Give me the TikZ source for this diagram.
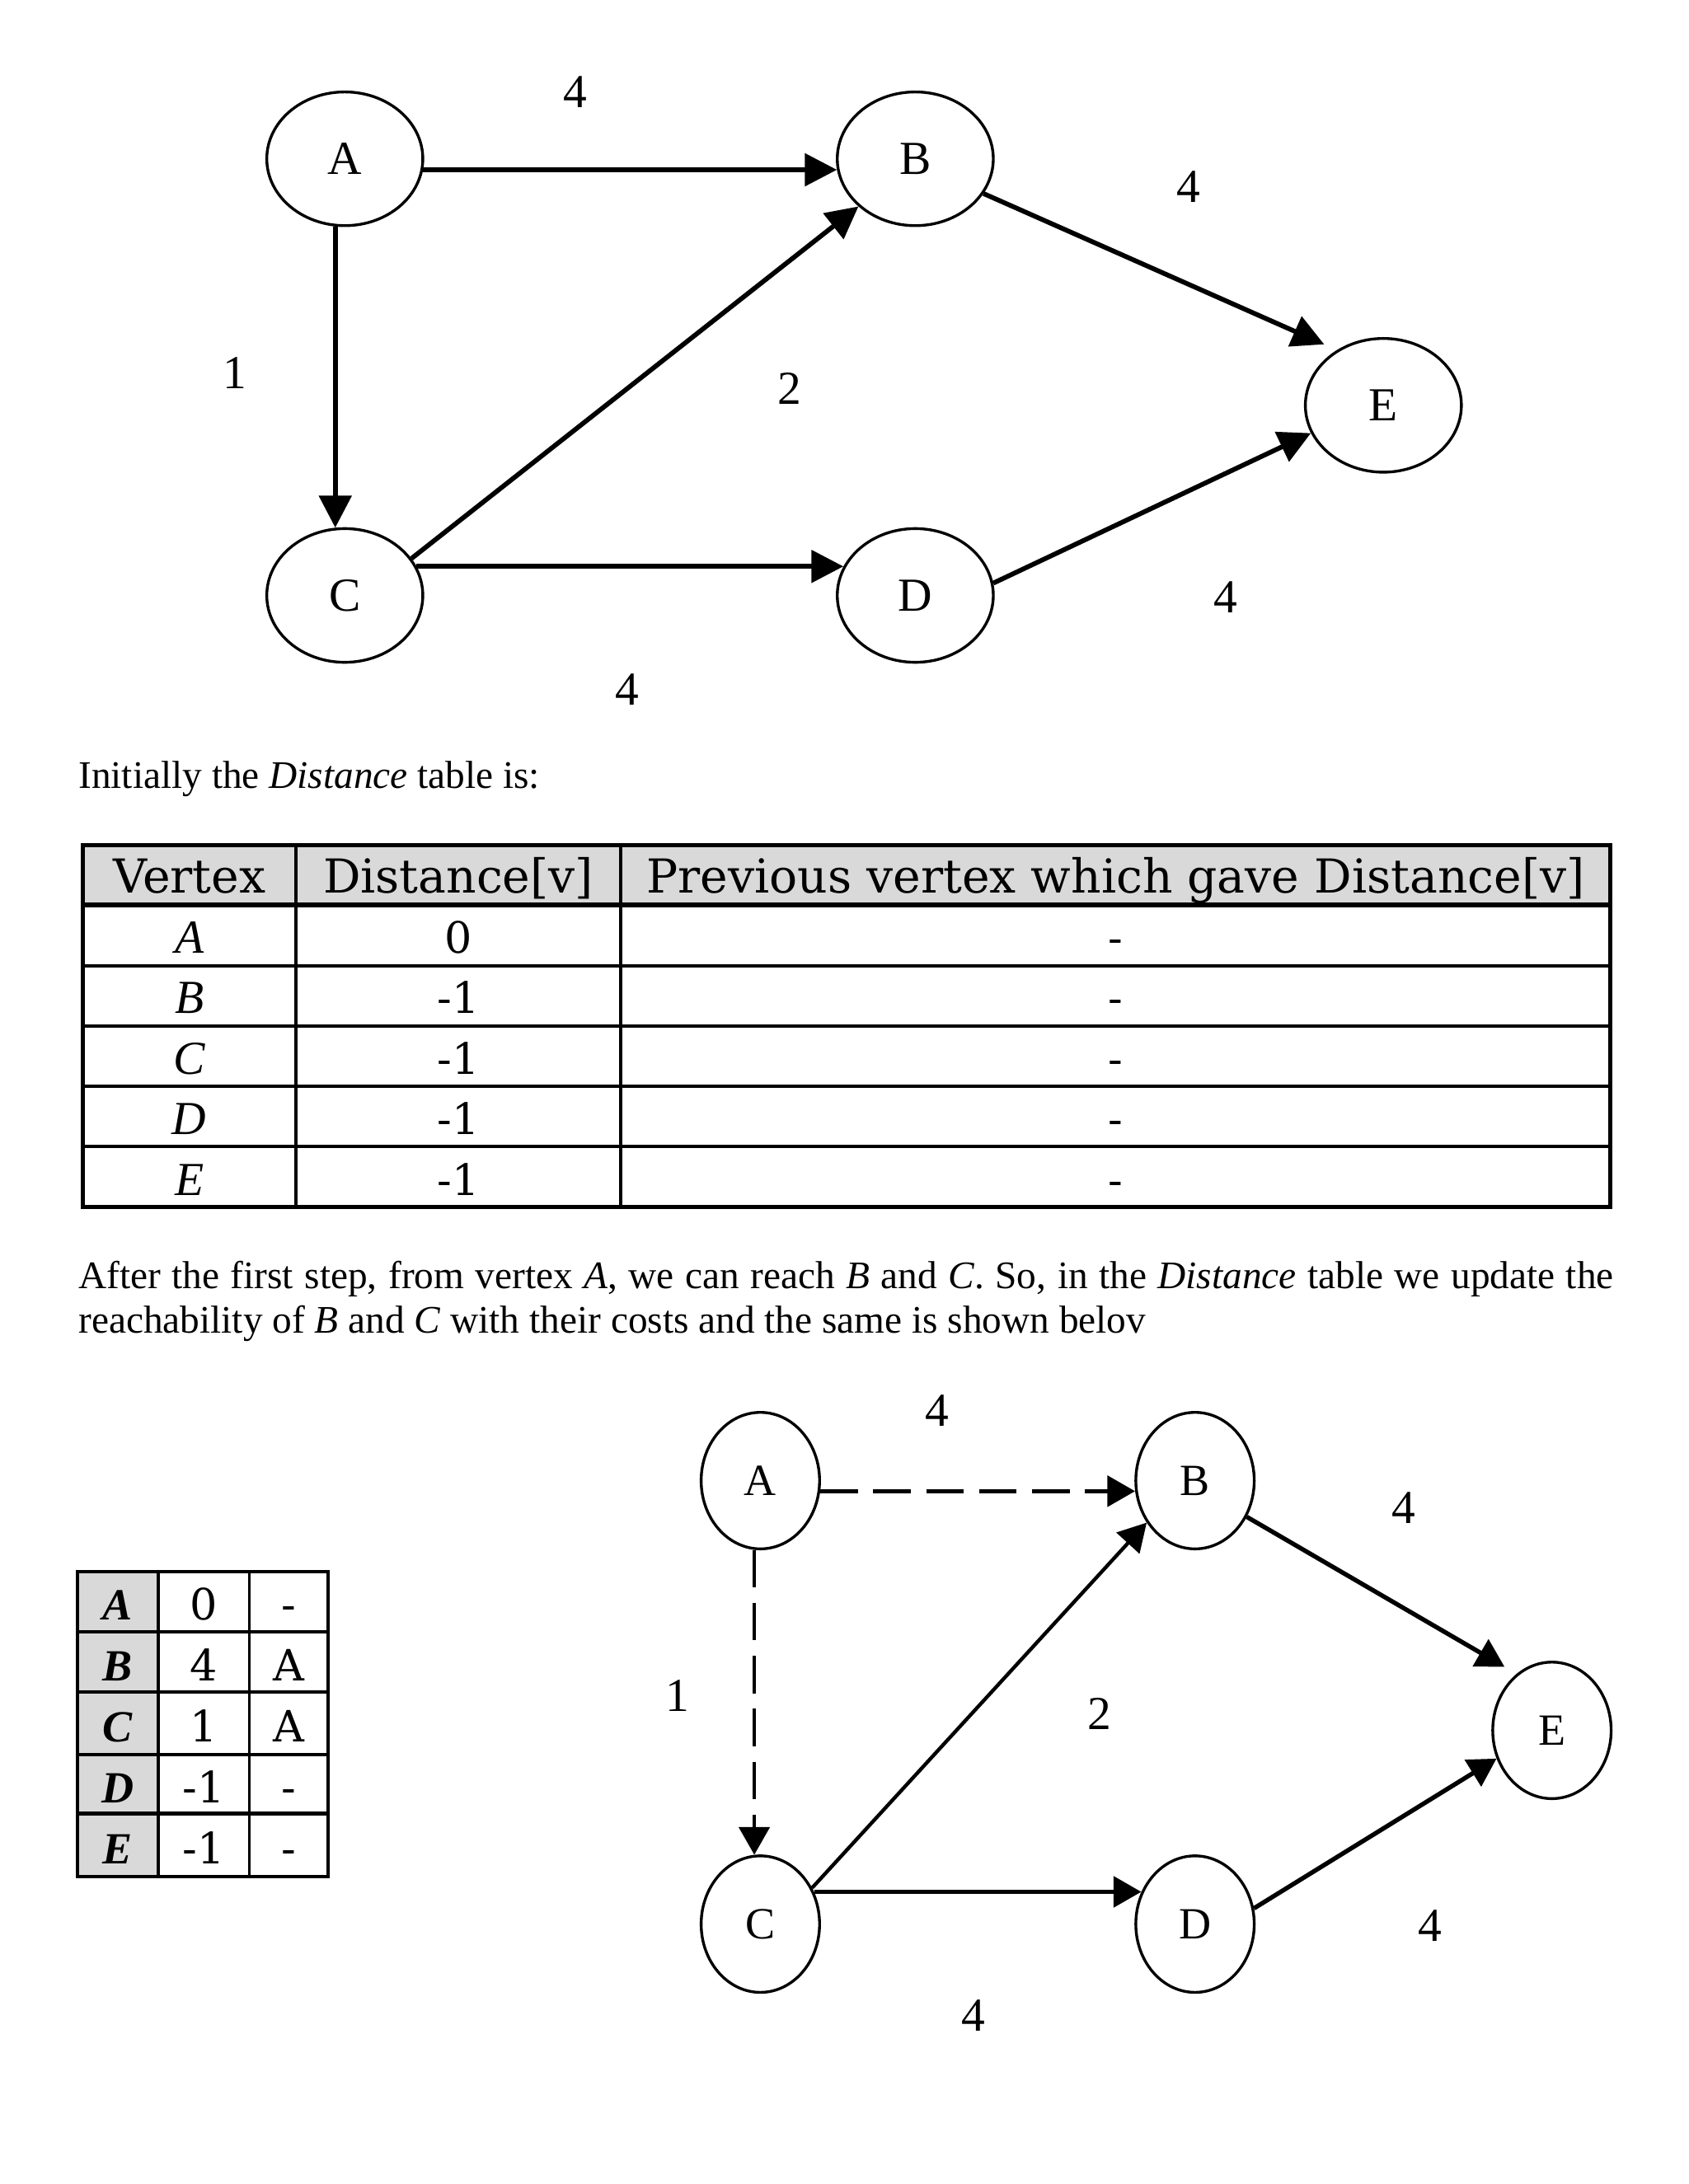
\documentclass[tikz,border=0pt]{standalone}
\usepackage{fontspec}
\setmainfont{Liberation Serif}
\newfontfamily\tabfont{DejaVu Serif}
\usetikzlibrary{arrows.meta,shapes.geometric}
\definecolor{cellgray}{RGB}{217,217,217}

\begin{document}
\begin{tikzpicture}[x=0.5pt,y=-0.5pt,
  vtx/.style={draw,ellipse,line width=1pt,inner sep=0pt,minimum width=56pt,minimum height=48pt,font=\fontsize{17}{17}\selectfont},
  vtxs/.style={vtx,minimum width=42.5pt,minimum height=49pt,font=\fontsize{16}{16}\selectfont},
  arr/.style={line width=1.7pt,-{Triangle[length=11.5pt,width=11.5pt]}},
  arrs/.style={line width=1.6pt,-{Triangle[length=10pt,width=11pt]}},
  dashy/.style={dash pattern=on 13.5pt off 5.5pt},
  wt/.style={inner sep=0pt,font=\fontsize{17}{17}\selectfont},
  txt/.style={inner sep=0pt,anchor=base west,font=\fontsize{14}{16}\selectfont},
  cell/.style={inner sep=0pt,anchor=base,font=\tabfont\fontsize{15.5}{15.5}\selectfont},
  head/.style={cell,font=\tabfont\fontsize{16.8}{16.8}\selectfont}]
  \useasboundingbox (0,0) rectangle (1212,1568);

  % first graph
  \node[vtx] (A) at (247.5,114) {A};
  \node[vtx] (B) at (657,114) {B};
  \node[vtx] (C) at (247.5,427.5) {C};
  \node[vtx] (D) at (657,427.5) {D};
  \node[vtx] (E) at (993,291) {E};
  \draw[arr] (A.-8) -- (B.188);
  \draw[arr] (A.-98) -- (C.98);
  \draw[arr] (C.29) -- (B.220);
  \draw[arr] (C.22) -- (D.158);
  \draw[arr,shorten >=5pt] (B.-27) -- (E.130);
  \draw[arr] (D.9) -- (E.201);
  \node[wt] (wAB) at (413,66) {4};
  \node[wt] (wAC) at (168.6,268) {1};
  \node[wt] (wCB) at (567,279) {2};
  \node[wt] (wCD) at (450,495) {4};
  \node[wt] (wBE) at (853,134) {4};
  \node[wt] (wDE) at (879.5,429) {4};

  \node[txt] (intro) at (56,565.7) {Initially the \textit{Distance} table is:};

  % distance table
  \fill[cellgray] (59.3,606.6) rectangle (1156,649.7);
  \foreach \y in {693.3,736.6,779.9,823.2}
    \draw[line width=1.2pt] (59.3,\y) -- (1156,\y);
  \draw[line width=1.7pt] (59.3,649.7) -- (1156,649.7);
  \foreach \x in {212.4,445.6}
    \draw[line width=1pt] (\x,606.6) -- (\x,866.5);
  \draw[line width=1.4pt] (59.3,606.6) rectangle (1156,866.5);
  \node[head] (hv) at (135.9,641) {Vertex};
  \node[head] (hd) at (329,641) {Distance[v]};
  \node[head] (hp) at (800.8,641) {Previous vertex which gave Distance[v]};
  \foreach \v/\d [count=\i] in {A/0,B/-1,C/-1,D/-1,E/-1} {
    \node[cell,font=\fontsize{17}{17}\selectfont\itshape] (v\i) at (135.9,640.5+43.5*\i) {\v};
    \node[cell] (d\i) at (329,640.5+43.5*\i) {\d};
    \node[cell] (p\i) at (800.8,640.5+43.5*\i) {-};
  }

  \node[txt] (step1) at (56,925) {\makebox[551pt][s]{After the first step, from vertex \textit{A}, we can reach \textit{B} and \textit{C}. So, in the \textit{Distance} table we update the}};
  \node[txt] (step2) at (56,957) {reachability of \textit{B} and \textit{C} with their costs and the same is shown belov};

  % small table
  \fill[cellgray] (55.6,1128.3) rectangle (113.4,1347.3);
  \foreach \y in {1171.7,1215,1259.5,1302}
    \draw[line width=1.2pt] (55.6,\y) -- (235.5,\y);
  \foreach \x in {113.4,179}
    \draw[line width=1.1pt] (\x,1128.3) -- (\x,1347.3);
  \draw[line width=1.4pt] (55.6,1128.3) rectangle (235.5,1347.3);
  \foreach \v/\d/\p [count=\i] in {A/0/-,B/4/A,C/1/A,D/-1/-,E/-1/-} {
    \node[cell,font=\fontsize{16}{16}\selectfont\bfseries\itshape] (sv\i) at (84.5,1119.1+43.8*\i) {\v};
    \node[cell] (sd\i) at (146.2,1119.1+43.8*\i) {\d};
    \node[cell] (sp\i) at (207.2,1119.1+43.8*\i) {\p};
  }

  % second graph
  \node[vtxs] (a) at (545.8,1063) {A};
  \node[vtxs] (b) at (857.8,1063) {B};
  \node[vtxs] (c) at (545.8,1381.4) {C};
  \node[vtxs] (d) at (857.8,1381.4) {D};
  \node[vtxs] (e) at (1114,1242.3) {E};
  \draw[arrs,dashy] (a.-10) -- (b.190);
  \draw[arrs,dashy,line width=1.3pt] (a.-95) -- (c.95);
  \draw[arrs,line width=1.3pt] (c.35) -- (b.221);
  \draw[arrs] (c.31) -- (d.149);
  \draw[arrs,shorten >=5pt] (b.-35) -- (e.122);
  \draw[arrs] (d.15) -- (e.207);
  \node[wt] (wab) at (672.8,1012.5) {4};
  \node[wt] (wac) at (486,1217.4) {1};
  \node[wt] (wcb) at (789,1230.6) {2};
  \node[wt] (wcd) at (699,1447) {4};
  \node[wt] (wbe) at (1007.6,1082.4) {4};
  \node[wt] (wde) at (1026.6,1382.3) {4};
\end{tikzpicture}
\end{document}
